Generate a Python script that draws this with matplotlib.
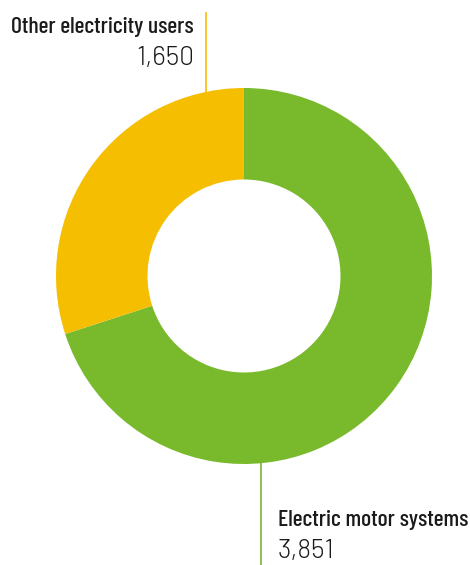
import numpy as np
import matplotlib
matplotlib.use("Agg")
import matplotlib.pyplot as plt

# electricity consumption split
labels = ["Electric motor systems", "Other electricity users"]
values = [3851, 1650]
value_text = ["3,851", "1,650"]
colors = ["#79B92C", "#F6BE00"]

W, H = 470, 565
fig = plt.figure(figsize=(W / 100, H / 100), dpi=100)
ax = fig.add_axes([0, 0, 1, 1])

cx, cy = 244, H - 276
r_out, r_in = 188, 96.5

ax.pie(values, colors=colors, startangle=90, counterclock=False,
       center=(cx, cy), radius=r_out,
       wedgeprops=dict(width=r_out - r_in, linewidth=0))
ax.set_xlim(0, W)
ax.set_ylim(0, H)
ax.set_aspect("equal")
ax.axis("off")

title_font = ["Barlow Condensed", "DejaVu Sans"]
num_font = ["Barlow", "DejaVu Sans"]
fs = 17
fs_num = 19
ink = "#1a1a1a"

# leader line + label for "other" (top)
x1 = 206
y_edge = cy + np.sqrt(r_out**2 - (x1 - cx)**2)
ax.plot([x1, x1], [y_edge - 1, H - 13], color=colors[1], lw=1.2)
ax.text(194, H - 33, labels[1], ha="right", va="baseline",
        fontsize=fs, fontweight=500, family=title_font, color=ink)
ax.text(194, H - 65, value_text[1], ha="right", va="baseline",
        fontsize=fs_num, fontweight=300, family=num_font, color=ink)

# leader line + label for motors (bottom)
x2 = 261
y_edge2 = cy - np.sqrt(r_out**2 - (x2 - cx)**2)
ax.plot([x2, x2], [y_edge2 + 1, 0], color=colors[0], lw=1.2)
ax.text(278, H - 526, labels[0], ha="left", va="baseline",
        fontsize=fs, fontweight=500, family=title_font, color=ink)
ax.text(278, H - 558, value_text[0], ha="left", va="baseline",
        fontsize=fs_num, fontweight=300, family=num_font, color=ink)

fig.savefig("out.png", dpi=100)
